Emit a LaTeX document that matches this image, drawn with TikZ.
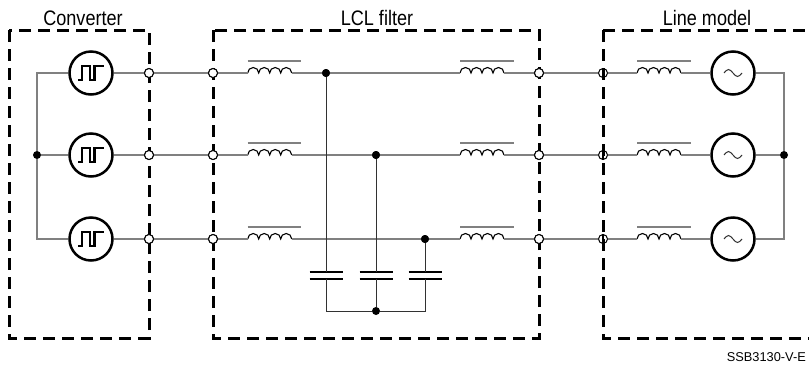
\documentclass[tikz,border=0pt]{standalone}
\usepackage{fontspec}
\setmainfont{Liberation Sans}
\newfontfamily\labfont[FakeStretch=0.86]{Liberation Sans}
\definecolor{wiregray}{RGB}{128,128,128}
\definecolor{darkwire}{RGB}{50,50,50}
\tikzset{
  wire/.style={draw=wiregray, line width=1.4pt},
  thinwire/.style={draw=darkwire, line width=1pt},
  framebox/.style={draw=black, line width=3pt, dash pattern=on 12pt off 7pt},
  src/.style={circle, draw=black, line width=2.5pt, minimum size=43pt, inner sep=0pt, fill=white},
  term/.style={circle, draw=black, line width=1pt, fill=white, minimum size=9pt, inner sep=0pt},
  openterm/.style={circle, draw=black, line width=1pt, minimum size=9pt, inner sep=0pt},
  jdot/.style={circle, fill=black, minimum size=8pt, inner sep=0pt},
  coilline/.style={draw=black, line width=1.1pt},
  barline/.style={draw=wiregray, line width=1.4pt},
  plateline/.style={draw=black, line width=2.6pt},
  pulseline/.style={draw=black, line width=2.8pt, line join=miter},
  sineline/.style={draw=darkwire, line width=1pt},
  lab/.style={font=\labfont\fontsize{21}{24}\selectfont, anchor=base, inner sep=0pt},
  code/.style={font=\fontsize{12.8}{15}\selectfont, anchor=base east, inner sep=0pt},
  ind/.pic={
    \draw[coilline] (0,0) arc(180:360:5.5) arc(180:360:5.5) arc(180:360:5.5) arc(180:360:5.5);
    \draw[barline] (0,-12) -- (53.5,-12);
    \coordinate (-in) at (0,0);
    \coordinate (-out) at (44,0);
  },
  cap/.pic={
    \draw[plateline] (-16.5,-3.5) -- (16.5,-3.5);
    \draw[plateline] (-16.5,3.5) -- (16.5,3.5);
    \coordinate (-top) at (0,-3.5);
    \coordinate (-bot) at (0,3.5);
  }
}
\begin{document}
\begin{tikzpicture}[x=1pt,y=-1pt]
\useasboundingbox (0,0) rectangle (809,365);

% frames
\draw[framebox] (9,30) rectangle (149,338);
\draw[framebox] (213,30) rectangle (539,338);
\draw[framebox] (603,30) -- (603,338) -- (830,338);
\draw[framebox] (603,30) -- (830,30);

% labels
\node[lab] (tconv) at (83,25) {Converter};
\node[lab] (tlcl) at (377,25) {LCL filter};
\node[lab] (tline) at (707,25) {Line model};
\node[code] (tcode) at (806,361) {SSB3130-V-E};

% bus coordinates
\coordinate (lt) at (37,73);
\coordinate (lbm) at (37,239);
\coordinate (rt) at (784,73);
\coordinate (rbm) at (784,239);

\foreach \i/\y in {1/73,2/155,3/239}{
  \node[src] (C\i) at (91,\y) {};
  \node[src] (G\i) at (733,\y) {};
  \node[term] (a\i) at (149,\y) {};
  \node[term] (b\i) at (213,\y) {};
  \node[term] (c\i) at (539,\y) {};
  \node[openterm] (d\i) at (603,\y) {};
  \pic (L\i) at (247.7,\y) {ind};
  \pic (M\i) at (460,\y) {ind};
  \pic (N\i) at (637,\y) {ind};
  \draw[pulseline] ([shift={(-13,7)}]C\i.center) -- ++(4,0) -- ++(0,-14) -- ++(8,0) -- ++(0,14) -- ++(4.5,0) -- ++(0,-14) -- ++(9,0);
  \draw[sineline] ([shift={(-9,0)}]G\i.center) sin ++(4.5,-3.5) cos ++(4.5,3.5) sin ++(4.5,3.5) cos ++(4.5,-3.5);
  \draw[line width=2.4pt] (d\i.north) -- (d\i.south);
}

% junction dots
\node[jdot] (j1) at (326,73) {};
\node[jdot] (j2) at (376,155) {};
\node[jdot] (j3) at (425,239) {};
\node[jdot] (jl) at (37,155) {};
\node[jdot] (jr) at (784,155) {};

% capacitors
\pic (K1) at (326,275.5) {cap};
\pic (K2) at (376,275.5) {cap};
\pic (K3) at (425,275.5) {cap};
\coordinate (kb1) at (326,311);
\coordinate (kb3) at (425,311);
\node[jdot] (jb) at (376,311) {};

% wires
\draw[wire] (C1) -- (lt) -- (jl) -- (lbm) -- (C3);
\draw[wire] (jl) -- (C2);
\draw[wire] (G1) -- (rt) -- (jr) -- (rbm) -- (G3);
\draw[wire] (jr) -- (G2);
\foreach \i in {1,2,3}{
  \draw[wire] (C\i) -- (a\i);
  \draw[wire] (a\i) -- (b\i);
  \draw[wire] (b\i) -- (L\i-in);
  \draw[wire] (L\i-out) -- (M\i-in);
  \draw[wire] (M\i-out) -- (c\i);
  \draw[wire] (c\i) -- (d\i);
  \draw[wire] (d\i) -- (N\i-in);
  \draw[wire] (N\i-out) -- (G\i);
}
\draw[thinwire] (j1) -- (K1-top);
\draw[thinwire] (j2) -- (K2-top);
\draw[thinwire] (j3) -- (K3-top);
\draw[thinwire] (K1-bot) -- (kb1) -- (jb) -- (kb3) -- (K3-bot);
\draw[thinwire] (K2-bot) -- (jb);

% redraw nodes on top of wires
\foreach \i in {1,2,3}{
  \node[term] at (a\i) {};
  \node[term] at (b\i) {};
  \node[term] at (c\i) {};
}
\node[jdot] at (j1) {};
\node[jdot] at (j2) {};
\node[jdot] at (j3) {};
\end{tikzpicture}
\end{document}
